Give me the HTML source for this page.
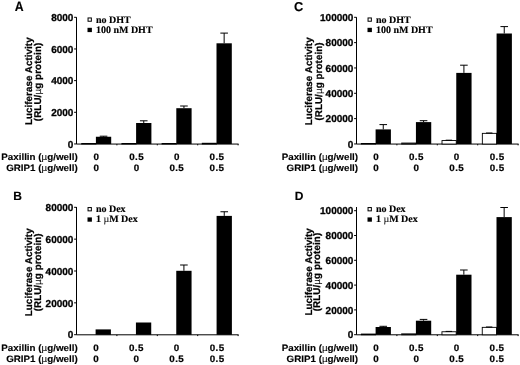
<!DOCTYPE html>
<html lang="en">
<head>
<meta charset="utf-8">
<title>Luciferase Activity</title>
<style>
html,body{margin:0;padding:0;background:#fff;}
body{width:520px;height:365px;overflow:hidden;}
svg{display:block;}
text{font-family:"Liberation Sans", Arial, Helvetica, sans-serif;font-weight:bold;font-size:9.8px;fill:#000;stroke:#000;stroke-width:0.15px;stroke-linejoin:round;text-rendering:geometricPrecision;}
.pl{font-size:12px;stroke-width:0.15px;letter-spacing:0;}
.tl{text-anchor:end;font-size:10px;stroke-width:0.3px;}
.xl{text-anchor:end;}
.xv{text-anchor:middle;letter-spacing:0.4px;stroke-width:0.22px;}
.yl{text-anchor:start;font-size:9.8px;stroke-width:0.25px;}
.lg{font-family:"Liberation Serif", "Times New Roman", Times, serif;font-size:10.0px;stroke-width:0.15px;letter-spacing:0;}
.mu{font-weight:normal;stroke-width:0.05px;}
.axis{fill:none;stroke:#000;stroke-width:1;}
.eb{fill:none;stroke:#000;stroke-width:1;}
.bb{fill:#000;}
.wb{fill:#fff;stroke:#000;stroke-width:0.9;}
.lw{fill:#fff;stroke:#000;stroke-width:1;}
.lb{fill:#000;}
</style>
</head>
<body>
<svg width="520" height="365" viewBox="0 0 520 365">
<rect width="520" height="365" fill="#fff"/>
<g class="panel">
<text transform="translate(14.8 10.5) scale(1 1.1)" class="pl" style="font-size:12.3px">A</text>
<path d="M76.5 17.2V144.05H238.6" class="axis"/>
<path d="M116.90 144.05v1.3M157.30 144.05v1.3M197.70 144.05v1.3M238.10 144.05v1.3" class="axis"/>
<path d="M74.10 143.95H76.5" class="axis"/>
<text transform="translate(73.40 147.80) scale(1 1.0)" class="tl">0</text>
<path d="M74.10 112.29H76.5" class="axis"/>
<text transform="translate(73.40 116.14) scale(1 1.0)" class="tl">2000</text>
<path d="M74.10 80.62H76.5" class="axis"/>
<text transform="translate(73.40 84.47) scale(1 1.0)" class="tl">4000</text>
<path d="M74.10 48.96H76.5" class="axis"/>
<text transform="translate(73.40 52.81) scale(1 1.0)" class="tl">6000</text>
<path d="M74.10 17.30H76.5" class="axis"/>
<text transform="translate(73.40 21.15) scale(1 1.0)" class="tl">8000</text>
<rect x="81.65" y="143.45" width="14.25" height="0.60" class="wb"/>
<rect x="95.90" y="136.75" width="15.30" height="7.30" class="bb"/>
<path d="M103.55 136.75V136.20M99.75 136.20H107.35" class="eb"/>
<rect x="121.85" y="143.45" width="14.25" height="0.60" class="wb"/>
<rect x="136.10" y="123.00" width="15.30" height="21.05" class="bb"/>
<path d="M143.75 123.00V120.80M139.95 120.80H147.55" class="eb"/>
<rect x="162.05" y="143.45" width="14.25" height="0.60" class="wb"/>
<rect x="176.30" y="108.20" width="15.30" height="35.85" class="bb"/>
<path d="M183.95 108.20V106.00M180.15 106.00H187.75" class="eb"/>
<rect x="202.25" y="143.25" width="14.25" height="0.80" class="wb"/>
<rect x="216.50" y="43.30" width="15.30" height="100.75" class="bb"/>
<path d="M224.15 43.30V33.10M220.35 33.10H227.95" class="eb"/>
<rect x="88.05" y="17.95" width="3.3" height="3.3" class="lw"/>
<text x="95.90" y="22.70" class="lg">no DHT</text>
<rect x="87.50" y="27.80" width="4.4" height="4.3" class="lb"/>
<text x="95.90" y="32.70" class="lg">100 nM DHT</text>
<text transform="translate(31.80 125.00) rotate(-90) scale(1 1.0)" class="yl" textLength="87.6">Luciferase Activity</text>
<text transform="translate(40.50 121.20) rotate(-90) scale(1 1.0)" class="yl" textLength="78.5">(RLU/<tspan class="mu">µ</tspan>g protein)</text>
<text transform="translate(77.70 160.10) scale(1 0.95)" class="xl">Paxillin (<tspan class="mu">µ</tspan>g/well)</text>
<text transform="translate(77.70 171.20) scale(1 0.95)" class="xl">GRIP1 (<tspan class="mu">µ</tspan>g/well)</text>
<text transform="translate(96.40 160.10) scale(1 0.95)" class="xv">0</text>
<text transform="translate(96.40 171.20) scale(1 0.95)" class="xv">0</text>
<text transform="translate(136.60 160.10) scale(1 0.95)" class="xv">0.5</text>
<text transform="translate(136.60 171.20) scale(1 0.95)" class="xv">0</text>
<text transform="translate(176.80 160.10) scale(1 0.95)" class="xv">0</text>
<text transform="translate(176.80 171.20) scale(1 0.95)" class="xv">0.5</text>
<text transform="translate(217.00 160.10) scale(1 0.95)" class="xv">0.5</text>
<text transform="translate(217.00 171.20) scale(1 0.95)" class="xv">0.5</text>
</g>
<g class="panel">
<text transform="translate(294.0 10.6) scale(1 1.0)" class="pl" style="font-size:12.8px">C</text>
<path d="M356.5 17.2V144.05H518.6" class="axis"/>
<path d="M396.90 144.05v1.3M437.30 144.05v1.3M477.70 144.05v1.3M518.10 144.05v1.3" class="axis"/>
<path d="M354.10 143.95H356.5" class="axis"/>
<text transform="translate(353.40 147.80) scale(1 1.0)" class="tl">0</text>
<path d="M354.10 118.62H356.5" class="axis"/>
<text transform="translate(353.40 122.47) scale(1 1.0)" class="tl">20000</text>
<path d="M354.10 93.29H356.5" class="axis"/>
<text transform="translate(353.40 97.14) scale(1 1.0)" class="tl">40000</text>
<path d="M354.10 67.96H356.5" class="axis"/>
<text transform="translate(353.40 71.81) scale(1 1.0)" class="tl">60000</text>
<path d="M354.10 42.63H356.5" class="axis"/>
<text transform="translate(353.40 46.48) scale(1 1.0)" class="tl">80000</text>
<path d="M354.10 17.30H356.5" class="axis"/>
<text transform="translate(353.40 21.15) scale(1 1.0)" class="tl">100000</text>
<rect x="361.35" y="143.45" width="14.25" height="0.60" class="wb"/>
<rect x="375.60" y="129.40" width="15.30" height="14.65" class="bb"/>
<path d="M383.25 129.40V124.60M379.45 124.60H387.05" class="eb"/>
<rect x="401.68" y="143.05" width="14.25" height="1.00" class="wb"/>
<rect x="415.93" y="122.10" width="15.30" height="21.95" class="bb"/>
<path d="M423.58 122.10V120.70M419.78 120.70H427.38" class="eb"/>
<rect x="442.01" y="140.55" width="14.25" height="3.50" class="wb"/>
<path d="M445.71 140.20H452.11" class="eb"/>
<rect x="456.26" y="72.90" width="15.30" height="71.15" class="bb"/>
<path d="M463.91 72.90V65.20M460.11 65.20H467.71" class="eb"/>
<rect x="482.34" y="133.35" width="14.25" height="10.70" class="wb"/>
<path d="M486.04 133.00H492.44" class="eb"/>
<rect x="496.59" y="33.50" width="15.30" height="110.55" class="bb"/>
<path d="M504.24 33.50V26.60M500.44 26.60H508.04" class="eb"/>
<rect x="368.05" y="17.95" width="3.3" height="3.3" class="lw"/>
<text x="375.90" y="22.70" class="lg">no DHT</text>
<rect x="367.50" y="27.80" width="4.4" height="4.3" class="lb"/>
<text x="375.90" y="32.70" class="lg">100 nM DHT</text>
<text transform="translate(312.20 125.30) rotate(-90) scale(1 1.0)" class="yl" textLength="87.9">Luciferase Activity</text>
<text transform="translate(321.50 120.60) rotate(-90) scale(1 1.0)" class="yl" textLength="78.2">(RLU/<tspan class="mu">µ</tspan>g protein)</text>
<text transform="translate(358.10 160.10) scale(1 0.95)" class="xl">Paxillin (<tspan class="mu">µ</tspan>g/well)</text>
<text transform="translate(358.10 171.20) scale(1 0.95)" class="xl">GRIP1 (<tspan class="mu">µ</tspan>g/well)</text>
<text transform="translate(376.10 160.10) scale(1 0.95)" class="xv">0</text>
<text transform="translate(376.10 171.20) scale(1 0.95)" class="xv">0</text>
<text transform="translate(416.43 160.10) scale(1 0.95)" class="xv">0.5</text>
<text transform="translate(416.43 171.20) scale(1 0.95)" class="xv">0</text>
<text transform="translate(456.76 160.10) scale(1 0.95)" class="xv">0</text>
<text transform="translate(456.76 171.20) scale(1 0.95)" class="xv">0.5</text>
<text transform="translate(497.09 160.10) scale(1 0.95)" class="xv">0.5</text>
<text transform="translate(497.09 171.20) scale(1 0.95)" class="xv">0.5</text>
</g>
<g class="panel">
<text transform="translate(13.35 199.8) scale(1 1.0)" class="pl" style="font-size:12px">B</text>
<path d="M76.5 207.0V334.8H238.6" class="axis"/>
<path d="M116.90 334.80v1.3M157.30 334.80v1.3M197.70 334.80v1.3M238.10 334.80v1.3" class="axis"/>
<path d="M74.10 334.70H76.5" class="axis"/>
<text transform="translate(73.40 338.35) scale(1 1.0)" class="tl">0</text>
<path d="M74.10 302.85H76.5" class="axis"/>
<text transform="translate(73.40 306.50) scale(1 1.0)" class="tl">20000</text>
<path d="M74.10 271.00H76.5" class="axis"/>
<text transform="translate(73.40 274.65) scale(1 1.0)" class="tl">40000</text>
<path d="M74.10 239.15H76.5" class="axis"/>
<text transform="translate(73.40 242.80) scale(1 1.0)" class="tl">60000</text>
<path d="M74.10 207.30H76.5" class="axis"/>
<text transform="translate(73.40 210.95) scale(1 1.0)" class="tl">80000</text>
<rect x="95.60" y="329.40" width="15.30" height="5.40" class="bb"/>
<rect x="135.93" y="322.50" width="15.30" height="12.30" class="bb"/>
<rect x="176.26" y="270.80" width="15.30" height="64.00" class="bb"/>
<path d="M183.91 270.80V265.00M180.11 265.00H187.71" class="eb"/>
<rect x="216.59" y="215.90" width="15.30" height="118.90" class="bb"/>
<path d="M224.24 215.90V211.75M220.44 211.75H228.04" class="eb"/>
<rect x="88.05" y="207.55" width="3.3" height="3.3" class="lw"/>
<text x="95.90" y="212.30" class="lg">no Dex</text>
<rect x="87.50" y="217.40" width="4.4" height="4.3" class="lb"/>
<text x="95.90" y="222.30" class="lg">1 <tspan class="mu">µ</tspan>M Dex</text>
<text transform="translate(32.00 316.20) rotate(-90) scale(1 1.0)" class="yl" textLength="87.8">Luciferase Activity</text>
<text transform="translate(40.60 311.30) rotate(-90) scale(1 1.0)" class="yl" textLength="77.9">(RLU/<tspan class="mu">µ</tspan>g protein)</text>
<text transform="translate(77.70 350.90) scale(1 0.95)" class="xl">Paxillin (<tspan class="mu">µ</tspan>g/well)</text>
<text transform="translate(77.70 362.00) scale(1 0.95)" class="xl">GRIP1 (<tspan class="mu">µ</tspan>g/well)</text>
<text transform="translate(96.10 350.90) scale(1 0.95)" class="xv">0</text>
<text transform="translate(96.10 362.00) scale(1 0.95)" class="xv">0</text>
<text transform="translate(136.43 350.90) scale(1 0.95)" class="xv">0.5</text>
<text transform="translate(136.43 362.00) scale(1 0.95)" class="xv">0</text>
<text transform="translate(176.76 350.90) scale(1 0.95)" class="xv">0</text>
<text transform="translate(176.76 362.00) scale(1 0.95)" class="xv">0.5</text>
<text transform="translate(217.09 350.90) scale(1 0.95)" class="xv">0.5</text>
<text transform="translate(217.09 362.00) scale(1 0.95)" class="xv">0.5</text>
</g>
<g class="panel">
<text transform="translate(294.8 200.0) scale(1 1.0)" class="pl" style="font-size:12px">D</text>
<path d="M356.5 207.0V334.8H518.6" class="axis"/>
<path d="M396.90 334.80v1.3M437.30 334.80v1.3M477.70 334.80v1.3M518.10 334.80v1.3" class="axis"/>
<path d="M354.10 334.70H356.5" class="axis"/>
<text transform="translate(353.40 338.35) scale(1 1.0)" class="tl">0</text>
<path d="M354.10 309.90H356.5" class="axis"/>
<text transform="translate(353.40 313.55) scale(1 1.0)" class="tl">20000</text>
<path d="M354.10 285.10H356.5" class="axis"/>
<text transform="translate(353.40 288.75) scale(1 1.0)" class="tl">40000</text>
<path d="M354.10 260.30H356.5" class="axis"/>
<text transform="translate(353.40 263.95) scale(1 1.0)" class="tl">60000</text>
<path d="M354.10 235.50H356.5" class="axis"/>
<text transform="translate(353.40 239.15) scale(1 1.0)" class="tl">80000</text>
<path d="M354.10 210.70H356.5" class="axis"/>
<text transform="translate(353.40 214.35) scale(1 1.0)" class="tl">100000</text>
<rect x="361.35" y="334.05" width="14.25" height="0.75" class="wb"/>
<rect x="375.60" y="327.00" width="15.30" height="7.80" class="bb"/>
<path d="M383.25 327.00V326.30M379.45 326.30H387.05" class="eb"/>
<rect x="401.65" y="333.85" width="14.25" height="0.95" class="wb"/>
<rect x="415.90" y="320.70" width="15.30" height="14.10" class="bb"/>
<path d="M423.55 320.70V319.40M419.75 319.40H427.35" class="eb"/>
<rect x="441.95" y="331.75" width="14.25" height="3.05" class="wb"/>
<path d="M445.65 331.40H452.05" class="eb"/>
<rect x="456.20" y="274.70" width="15.30" height="60.10" class="bb"/>
<path d="M463.85 274.70V270.00M460.05 270.00H467.65" class="eb"/>
<rect x="482.25" y="327.35" width="14.25" height="7.45" class="wb"/>
<path d="M485.95 327.00H492.35" class="eb"/>
<rect x="496.50" y="217.10" width="15.30" height="117.70" class="bb"/>
<path d="M504.15 217.10V207.50M500.35 207.50H507.95" class="eb"/>
<rect x="368.05" y="207.55" width="3.3" height="3.3" class="lw"/>
<text x="375.90" y="212.30" class="lg">no Dex</text>
<rect x="367.50" y="217.40" width="4.4" height="4.3" class="lb"/>
<text x="375.90" y="222.30" class="lg">1 <tspan class="mu">µ</tspan>M Dex</text>
<text transform="translate(311.90 315.40) rotate(-90) scale(1 1.0)" class="yl" textLength="87.1">Luciferase Activity</text>
<text transform="translate(320.30 311.30) rotate(-90) scale(1 1.0)" class="yl" textLength="78.5">(RLU/<tspan class="mu">µ</tspan>g protein)</text>
<text transform="translate(358.10 350.90) scale(1 0.95)" class="xl">Paxillin (<tspan class="mu">µ</tspan>g/well)</text>
<text transform="translate(358.10 362.00) scale(1 0.95)" class="xl">GRIP1 (<tspan class="mu">µ</tspan>g/well)</text>
<text transform="translate(376.10 350.90) scale(1 0.95)" class="xv">0</text>
<text transform="translate(376.10 362.00) scale(1 0.95)" class="xv">0</text>
<text transform="translate(416.40 350.90) scale(1 0.95)" class="xv">0.5</text>
<text transform="translate(416.40 362.00) scale(1 0.95)" class="xv">0</text>
<text transform="translate(456.70 350.90) scale(1 0.95)" class="xv">0</text>
<text transform="translate(456.70 362.00) scale(1 0.95)" class="xv">0.5</text>
<text transform="translate(497.00 350.90) scale(1 0.95)" class="xv">0.5</text>
<text transform="translate(497.00 362.00) scale(1 0.95)" class="xv">0.5</text>
</g>
</svg>
</body>
</html>
